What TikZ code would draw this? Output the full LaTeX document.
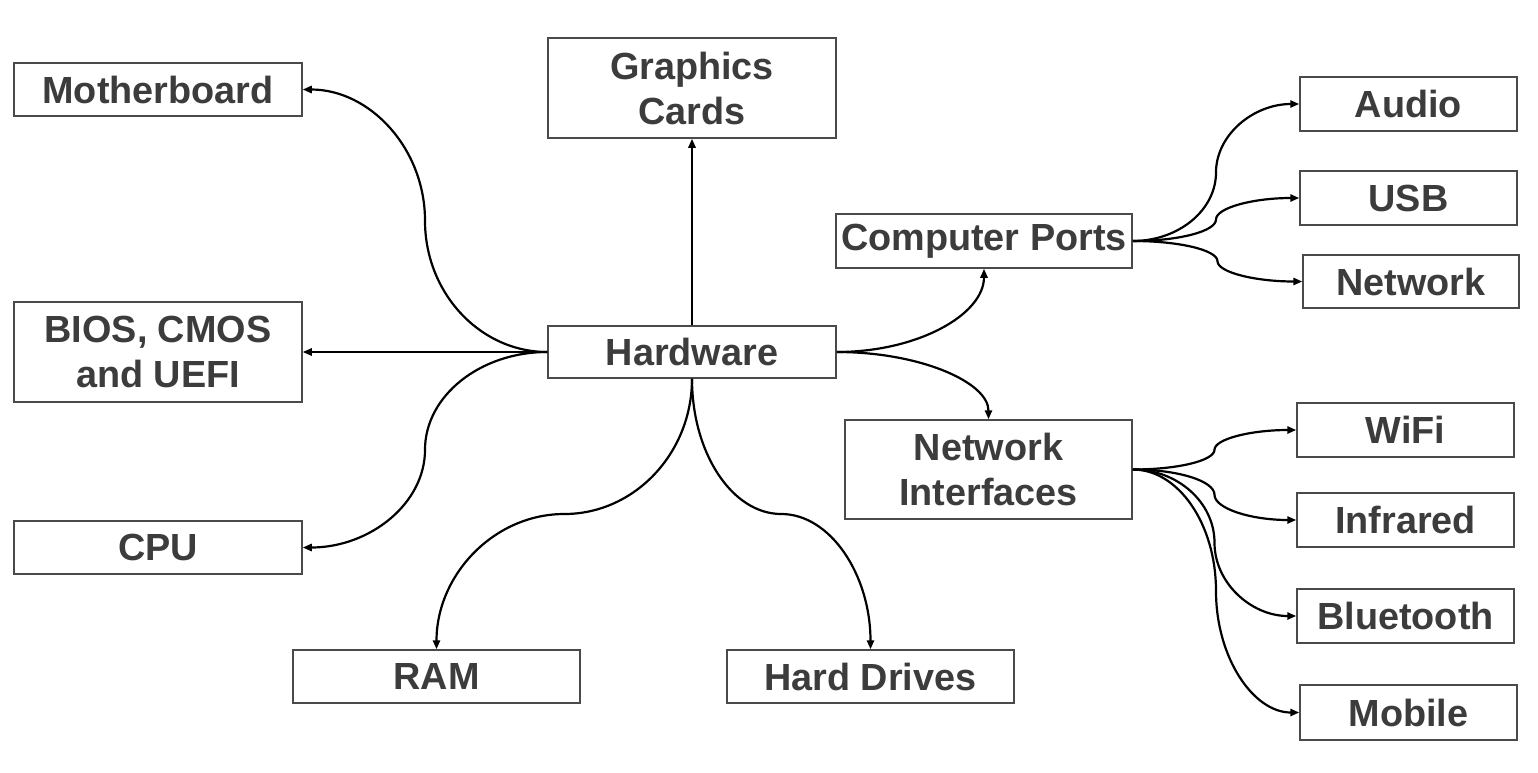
\documentclass[tikz,border=0pt]{standalone}
\usepackage{fontspec}
\setmainfont{Liberation Sans}
\usetikzlibrary{calc,arrows.meta}
\definecolor{boxgray}{HTML}{4A4A4A}
\definecolor{textgray}{HTML}{3C3C3C}
\newcommand{\hcurve}[2]{%
  \coordinate (hm) at ($(#1)!0.5!(#2)$);
  \coordinate (ha) at (hm |- #1);
  \coordinate (hb) at (hm |- #2);
  \draw[conn] (#1) .. controls ($(#1)!0.55!(ha)$) and ($(hm)!0.55!(ha)$) .. (hm)
    .. controls ($(hm)!0.55!(hb)$) and ($(#2)!0.55!(hb)$) .. (#2);}
\newcommand{\vcurve}[2]{%
  \coordinate (vm) at ($(#1)!0.5!(#2)$);
  \coordinate (va) at (#1 |- vm);
  \coordinate (vb) at (#2 |- vm);
  \draw[conn] (#1) .. controls ($(#1)!0.55!(va)$) and ($(vm)!0.55!(va)$) .. (vm)
    .. controls ($(vm)!0.55!(vb)$) and ($(#2)!0.55!(vb)$) .. (#2);}
\newcommand{\qcurve}[2]{%
  \coordinate (qc) at (#2 |- #1);
  \draw[conn] (#1) .. controls ($(#1)!0.55!(qc)$) and ($(#2)!0.55!(qc)$) .. (#2);}
\begin{document}
\begin{tikzpicture}[x=0.5pt,y=-0.5pt,
  box/.style={draw=boxgray, line width=0.75pt, fill=white, inner sep=0pt,
    align=center, text=textgray,
    font=\fontsize{18.9pt}{22.5pt}\selectfont\bfseries},
  conn/.style={draw=black, line width=1.1pt, -{Triangle[length=4.5pt,width=3.6pt]}}]
\useasboundingbox (0,0) rectangle (1538,772);
% left column
\node[box, minimum width=144pt, minimum height=26.5pt] (mb) at (158,89.5) {Motherboard};
\node[box, minimum width=144pt, minimum height=50pt] (bios) at (158,352) {BIOS, CMOS\\and UEFI};
\node[box, minimum width=144pt, minimum height=26.5pt] (cpu) at (158,547.5) {CPU};
% centre
\node[box, minimum width=144pt, minimum height=50pt] (gc) at (692,88) {Graphics\\Cards};
\node[box, minimum width=144pt, minimum height=26pt] (hw) at (692,352) {Hardware};
\node[box, minimum width=143.5pt, minimum height=26.5pt] (ram) at (436.5,676.5) {RAM};
\node[box, minimum width=143.5pt, minimum height=26.5pt] (hd) at (870.5,676.5) {Hard Drives};
% middle right
\node[box, minimum width=148pt, minimum height=27pt] (cp) at (984,241) {Computer Ports};
\node[box, minimum width=143.5pt, minimum height=49.5pt] (ni) at (988.5,469.5) {Network\\Interfaces};
% right column
\node[box, minimum width=108.5pt, minimum height=27pt] (audio) at (1408.5,104) {Audio};
\node[box, minimum width=108.5pt, minimum height=27pt] (usb) at (1408.5,198) {USB};
\node[box, minimum width=108pt, minimum height=26.5pt] (net) at (1411,281.5) {Network};
\node[box, minimum width=108.5pt, minimum height=27pt] (wifi) at (1405.5,430) {WiFi};
\node[box, minimum width=108.5pt, minimum height=27pt] (ir) at (1405.5,520) {Infrared};
\node[box, minimum width=108.5pt, minimum height=27pt] (bt) at (1405.5,616) {Bluetooth};
\node[box, minimum width=108.5pt, minimum height=27.5pt] (mob) at (1408.5,712.5) {Mobile};
% connectors from Hardware
\draw[conn] (hw.north) -- (gc.south);
\draw[conn] (hw.west) -- (bios.east);
\hcurve{hw.west}{mb.east}
\hcurve{hw.west}{cpu.east}
\vcurve{hw.south}{ram.north}
\vcurve{hw.south}{hd.north}
\qcurve{hw.east}{cp.south}
\qcurve{hw.east}{ni.north}
% computer ports
\hcurve{cp.east}{audio.west}
\hcurve{cp.east}{usb.west}
\hcurve{cp.east}{net.west}
% network interfaces
\hcurve{ni.east}{wifi.west}
\hcurve{ni.east}{ir.west}
\hcurve{ni.east}{bt.west}
\hcurve{ni.east}{mob.west}
\end{tikzpicture}
\end{document}
